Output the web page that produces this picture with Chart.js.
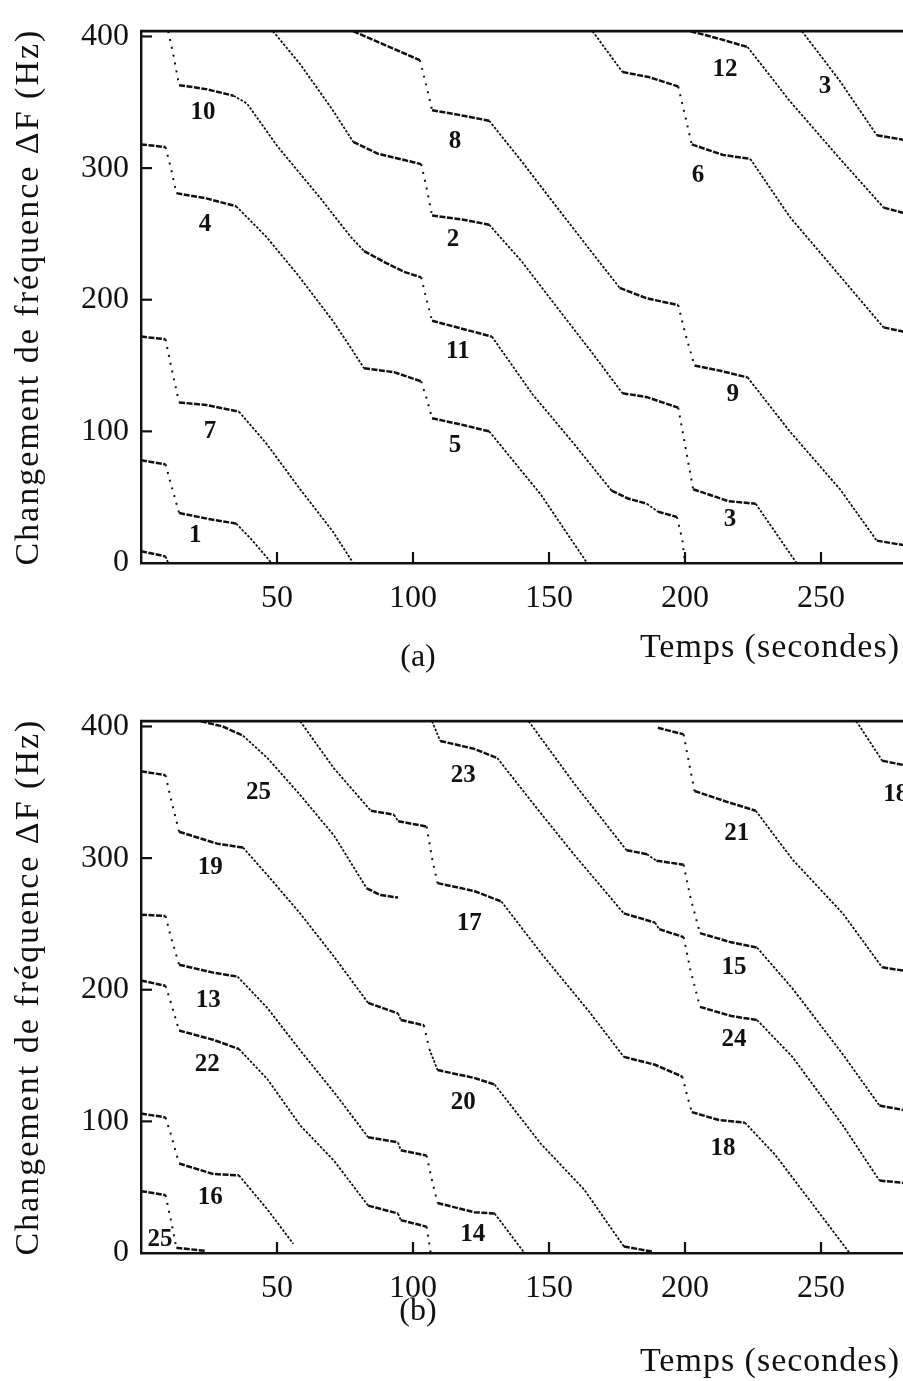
<!DOCTYPE html>
<html>
<head>
<meta charset="utf-8">
<script src="https://cdn.jsdelivr.net/npm/chart.js@4.4.1/dist/chart.umd.min.js"></script>
<style>
  html, body { margin: 0; padding: 0; background: #fff; overflow: hidden; width: 903px; height: 1381px; }
  canvas { position: absolute; left: 0; }
  #chart-a { top: 0; }
  #chart-b { top: 690px; }
</style>
</head>
<body>
<canvas id="chart-a" width="960" height="690"></canvas>
<canvas id="chart-b" width="960" height="691"></canvas>
<script>
// ── Axes ─────────────────────────────────────────────────────────
const xTicks = [50, 100, 150, 200, 250];
const yTicks = [0, 100, 200, 300, 400];
const yTitle = 'Changement de fréquence ΔF (Hz)';
const xTitle = 'Temps (secondes)';

// ════════════════════════════════════════════════════════════════
// (a) pistes : [temps (s), ΔF (Hz)]
// ════════════════════════════════════════════════════════════════
const trackA10 = [[10,404],[12,385],[14,363],[24,360],[34,355],[39,349],[50,317],[66,277],[77,248],[82,237],[90,228],[97,221],[103,217],[105,200],[107,184],[118,178],[129,172],[144,128],[159,91],[173,55],[179,49],[186,45],[190,39],[197,35],[199,18],[200,0]];
const trackA4  = [[0,318],[9,316],[11,300],[13,281],[24,277],[35,271],[46,248],[58,218],[70.5,184],[76,167],[82,148],[93,145],[103,138],[105,125],[107,110],[118,105],[128,100],[147,52],[164,0]];
const trackA7  = [[0,172],[9,170],[11,150],[14,122],[24,120],[36,115],[46,91],[58.5,56],[70.5,24],[78,0]];
const trackA1  = [[0,78],[9,75],[11,60],[14,38],[26,33],[35,30],[41,17],[48,0]];
const trackA0  = [[0,9],[9,5],[10,0]];
const trackA2  = [[48.5,404],[58.5,379],[70.5,344],[78,320],[87,311],[103,303],[105,285],[107,264],[118,261],[128,257],[140,229],[153,194],[165,162],[177,129],[186,126],[197.5,118],[200,90],[203,56],[216,47],[226,45],[241,0]];
const trackA8  = [[78,404],[92.5,391],[102.5,382],[105,362],[107,344],[118,340],[128,336],[140,305],[153,270],[165,238],[176,209],[186,201],[197.5,196],[200,175],[203.5,150],[213,146],[223,141],[238.5,100],[257,56],[270.5,17],[282,13]];
const trackA6  = [[166,404],[177,373],[187,369],[197.5,362],[200,340],[202.5,318],[214,310],[224,307],[238.5,263],[257,218],[273,179],[282,175]];
const trackA12 = [[202,404],[213,398],[223,392],[238.5,351],[257,307],[273,270],[282,265]];
const trackA3  = [[243,404],[257,366],[270.5,325],[282,321]];
const tracksA = [trackA10, trackA4, trackA7, trackA1, trackA0, trackA2, trackA8, trackA6, trackA12, trackA3];

const labelTextA = ['10', '4', '7', '1', '8', '2', '11', '5', '12', '3', '6', '9', '3'];
const labelTimeA = [22.8, 23.5, 25.4, 19.9, 115.4, 114.7, 116.5, 115.4, 214.7, 251.5, 204.8, 217.6, 216.5];
const labelFreqA = [342, 257, 100, 21, 320, 246, 161, 89, 375, 362, 294, 128, 33];

// ════════════════════════════════════════════════════════════════
// (b) pistes
// ════════════════════════════════════════════════════════════════
const trackB25  = [[22,404],[30,400],[37.5,393],[46.5,376],[58.5,348],[71,317],[83,277],[88,272],[94.5,270]];
const trackB17  = [[58.5,404],[71,368],[84.5,336],[93,333],[94.5,328],[105,324],[107,300],[109,281],[122.5,275],[132.5,267],[147,228],[164.5,184],[177.5,149],[189,143],[199,134],[201,118],[202.5,107],[212.5,101],[222,99],[233,75],[245.5,41],[260.5,0]];
const trackB19  = [[0,366],[9,363],[11,345],[14,320],[28,311],[37.5,308],[46.5,287],[58.5,258],[71,225],[83.5,190],[94.5,182],[95.5,177],[104,173],[106,155],[109,139],[122.5,133],[130,128],[147,83],[163,48],[177.5,5],[188,1]];
const trackB13  = [[0,257],[9,256],[11,240],[14,219],[26.5,213],[35.5,210],[46.5,186],[58.5,154],[71,122],[83.5,88],[94.5,84],[95.5,78],[105,74],[107,55],[109,38],[122.5,31],[130,30],[141,0]];
const trackB22  = [[0,207],[9,203],[11,190],[14,169],[26.5,162],[36,155],[46.5,132],[58.5,97],[71,70],[83.5,36],[94.5,30],[95.5,25],[105,20],[106.5,0]];
const trackB16  = [[0,106],[9,103],[11,90],[14,68],[26.5,60],[36,59],[46.5,33],[56,7]];
const trackB25b = [[0,47],[9,44],[11,25],[13,4],[24,1.5]];
const trackB23  = [[107,404],[110,389],[122.5,383],[131,376],[147,334],[159.5,302],[177.5,258],[189,251],[190.5,246],[199.5,240],[202,215],[205.5,187],[217,180],[226.5,177],[239.5,149],[258,97],[271.5,55],[282,53]];
const trackB15  = [[142.5,404],[159.5,356],[178.5,306],[186,303],[189.5,298],[199.5,295],[202,270],[205.5,243],[217,236],[226.5,232],[239.5,201],[258,151],[271.5,112],[282,108]];
const trackB21  = [[190,399],[199.5,394],[201.5,372],[203.5,351],[215,343],[226,336],[239.5,299],[258,258],[272.5,217],[282,214]];
const trackB18  = [[263,404],[272.5,374],[282,370]];
const tracksB = [trackB25, trackB17, trackB19, trackB13, trackB22, trackB16, trackB25b, trackB23, trackB15, trackB21, trackB18];

const labelTextB = ['25', '19', '13', '22', '16', '25', '23', '17', '20', '14', '21', '15', '24', '18', '18'];
const labelTimeB = [43.2, 25.5, 24.7, 24.4, 25.5, 7, 118.5, 120.7, 118.5, 122, 219, 218, 218, 214, 277.5];
const labelFreqB = [350, 293, 192, 143, 42, 10, 363, 250, 114, 14, 319, 217, 162, 79, 348];

// ── Style ────────────────────────────────────────────────────────
const serif = '"Liberation Serif", "DejaVu Serif", serif';
const ink = '#111';

// pente |dF/dt| d'un segment : palier, descente ou saut
function slope(ctx) {
    const dx = Math.abs(ctx.p1.parsed.x - ctx.p0.parsed.x) || 1e-6;
    return Math.abs(ctx.p1.parsed.y - ctx.p0.parsed.y) / dx;
}

function toDatasets(tracks) {
    return tracks.map(pts => ({
        data: pts.map(([t, f]) => ({ x: t, y: f })),
        borderColor: ink,
        borderWidth: 1.8,
        borderDash: [2.5, 1.6],
        pointRadius: 0,
        fill: false,
        tension: 0,
        segment: {
            borderDash:  ctx => { const s = slope(ctx); return s > 6 ? [2, 6] : s < 1.2 ? [6, 1.5] : undefined; },
            borderWidth: ctx => { const s = slope(ctx); return s > 6 ? 2 : s < 1.2 ? 2.5 : 1.8; }
        }
    }));
}

// ── Plugin : cadre, graduations intérieures, numéros, titres ─────
const figurePlugin = {
    id: 'figure',
    afterDatasetsDraw(chart, args, opts) {
        const { ctx, chartArea: ca, scales: { x, y } } = chart;
        ctx.save();
        ctx.strokeStyle = ink;
        ctx.lineWidth = 2.8;
        ctx.beginPath();
        ctx.moveTo(ca.left - 1, ca.top);
        ctx.lineTo(ca.right, ca.top);
        ctx.stroke();

        ctx.lineWidth = 2.2;
        yTicks.forEach(v => {
            if (v === 0) return;
            const py = y.getPixelForValue(v);
            ctx.beginPath(); ctx.moveTo(ca.left, py); ctx.lineTo(ca.left + 11, py); ctx.stroke();
        });
        xTicks.forEach(v => {
            const px = x.getPixelForValue(v);
            ctx.beginPath(); ctx.moveTo(px, ca.bottom); ctx.lineTo(px, ca.bottom - 11); ctx.stroke();
        });

        ctx.fillStyle = ink;
        ctx.textAlign = 'center';
        ctx.textBaseline = 'middle';
        ctx.font = `bold 25px ${serif}`;
        opts.text.forEach((t, i) => {
            ctx.fillText(t, x.getPixelForValue(opts.time[i]), y.getPixelForValue(opts.freq[i]));
        });

        ctx.font = `32px ${serif}`;
        ctx.fillText(opts.panel, 418, opts.panelY);
        ctx.textAlign = 'right';
        ctx.letterSpacing = '1px';
        ctx.font = `34px ${serif}`;
        ctx.fillText(xTitle, 900, opts.timeY);

        ctx.textAlign = 'center';
        ctx.letterSpacing = '2px';
        ctx.font = `34px ${serif}`;
        ctx.translate(29, (ca.top + ca.bottom) / 2);
        ctx.rotate(-Math.PI / 2);
        ctx.fillText(yTitle, 0, 0);
        ctx.restore();
    }
};

function makeChart(id, tracks, text, time, freq, panel, panelY, timeY) {
    const canvas = document.getElementById(id);
    const H = canvas.height;
    return new Chart(canvas, {
        type: 'line',
        data: { datasets: toDatasets(tracks) },
        plugins: [figurePlugin],
        options: {
            responsive: false,
            animation: false,
            events: [],
            layout: { padding: { top: 16, right: 3, left: 0, bottom: 0 } },
            plugins: {
                legend: { display: false },
                tooltip: { enabled: false },
                figure: { text, time, freq, panel, panelY, timeY }
            },
            scales: {
                x: {
                    type: 'linear', min: 0, max: 300,
                    afterBuildTicks: s => { s.ticks = xTicks.map(v => ({ value: v })); },
                    afterFit: s => { s.height = H - 563; },
                    grid: { display: true, drawOnChartArea: false, drawTicks: false },
                    border: { color: ink, width: 2.4 },
                    ticks: { font: { family: serif, size: 32 }, color: ink, padding: 16, maxRotation: 0, autoSkip: false }
                },
                y: {
                    type: 'linear', min: 0, max: 404,
                    afterBuildTicks: s => { s.ticks = yTicks.map(v => ({ value: v })); },
                    afterFit: s => { s.width = 141; },
                    grid: { display: true, drawOnChartArea: false, drawTicks: false },
                    border: { color: ink, width: 2.4 },
                    ticks: { font: { family: serif, size: 32 }, color: ink, padding: 12, autoSkip: false }
                }
            }
        }
    });
}

makeChart('chart-a', tracksA, labelTextA, labelTimeA, labelFreqA, '(a)', 658, 648);
makeChart('chart-b', tracksB, labelTextB, labelTimeB, labelFreqB, '(b)', 622, 672);
</script>
</body>
</html>
